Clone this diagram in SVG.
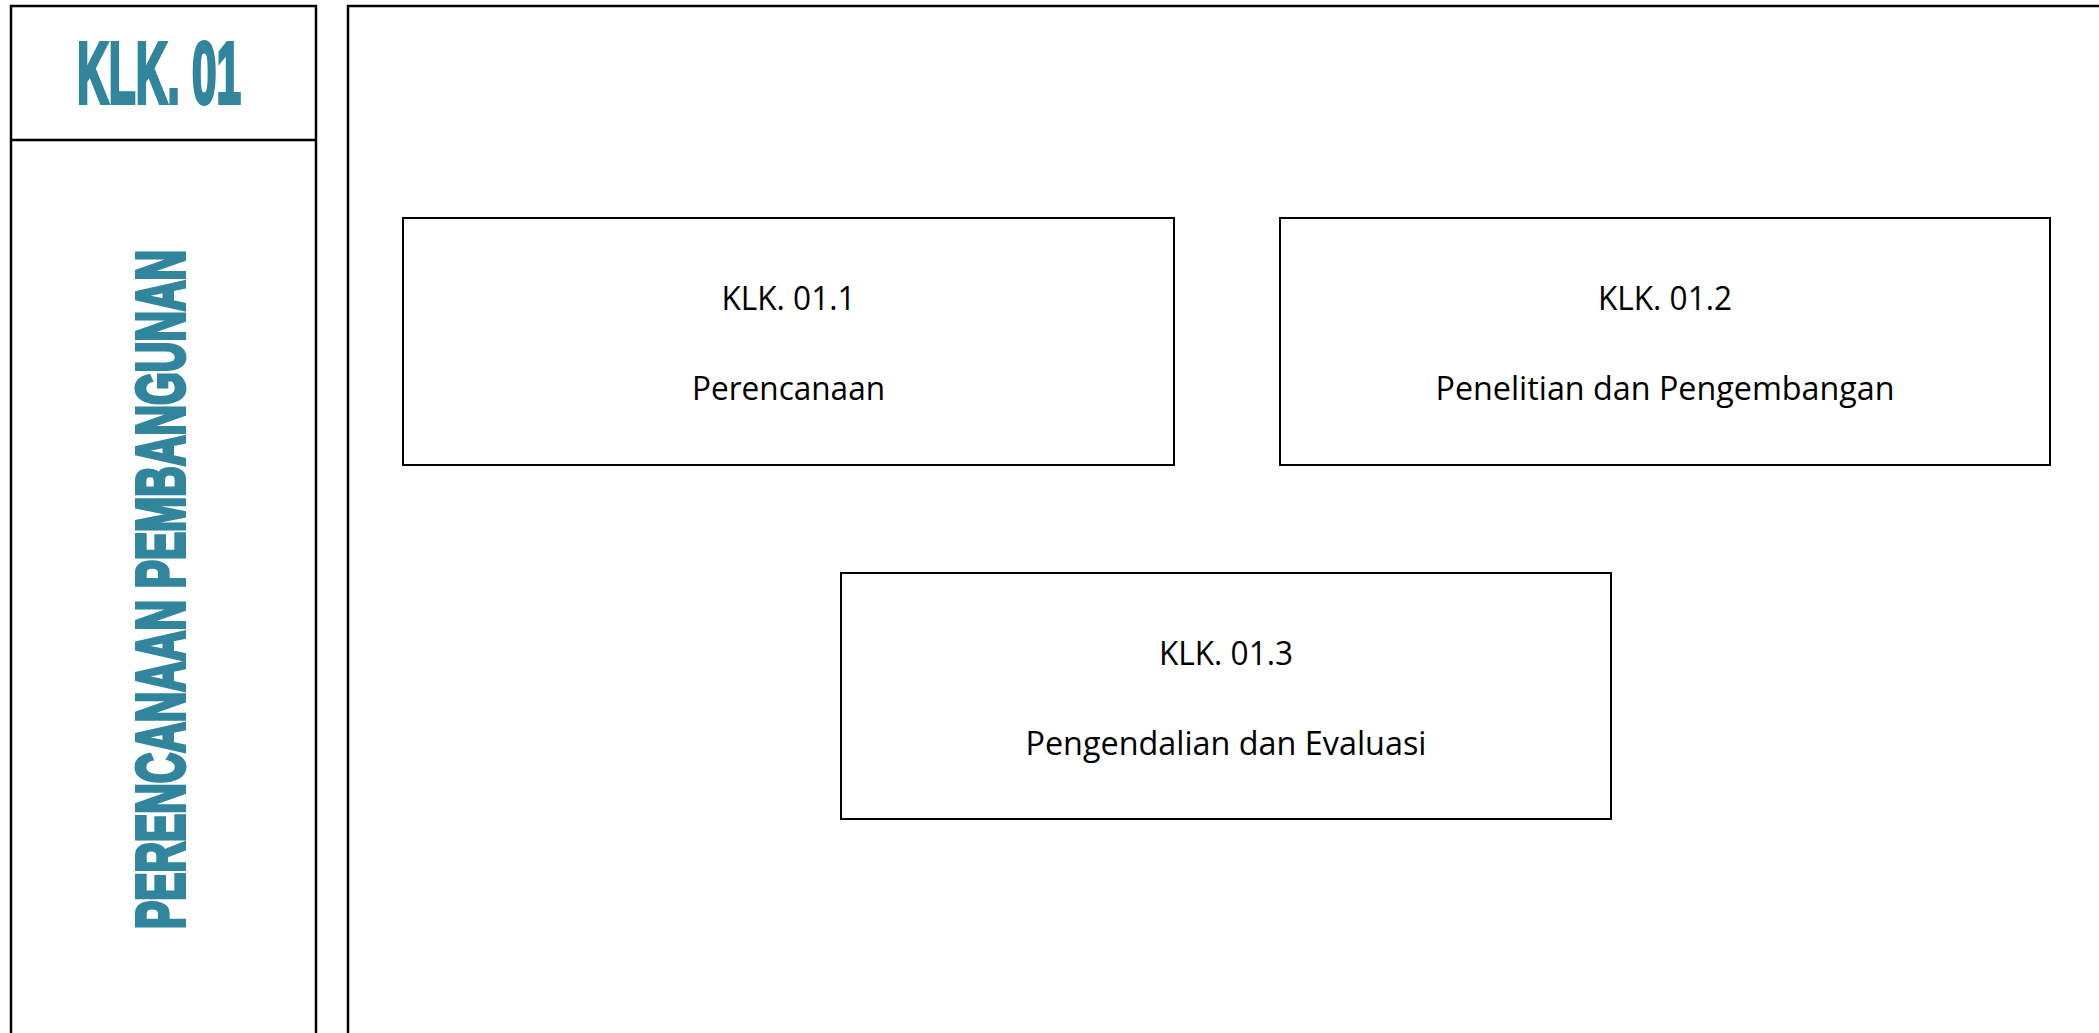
<svg xmlns="http://www.w3.org/2000/svg" width="2099" height="1033" viewBox="0 0 2099 1033">
<style>
.frame{fill:none;stroke:#000;stroke-width:2.5}
.box{fill:#fff;stroke:#000;stroke-width:2}
.title{font-family:"Liberation Sans",Arial,sans-serif;font-weight:bold;fill:#31859C;stroke:#31859C;stroke-width:4;stroke-linejoin:miter;text-anchor:middle}
.lbl{font-family:"Open Sans","Liberation Sans",sans-serif;font-size:32px;fill:#000;text-anchor:middle}
</style>
<rect width="2099" height="1033" fill="#fff"/>
<g id="left-panel">
<rect class="frame" x="11" y="6" width="305" height="1060"/>
<line class="frame" x1="11" y1="140" x2="316" y2="140"/>
<text class="title" x="159" y="103" font-size="88" textLength="164" lengthAdjust="spacingAndGlyphs">KLK. 01</text>
<text class="title" transform="translate(184,589.5) rotate(-90)" x="0" y="0" font-size="69" textLength="679" lengthAdjust="spacingAndGlyphs">PERENCANAAN PEMBANGUNAN</text>
</g>
<g id="right-panel">
<rect class="frame" x="348" y="6" width="1800" height="1060"/>
</g>
<g id="node-klk-01-1">
<rect class="box" x="403" y="218" width="771" height="247"/>
<text class="lbl" x="788.5" y="310" textLength="134" lengthAdjust="spacingAndGlyphs">KLK. 01.1</text>
<text class="lbl" x="788.5" y="400" textLength="193" lengthAdjust="spacingAndGlyphs">Perencanaan</text>
</g>
<g id="node-klk-01-2">
<rect class="box" x="1280" y="218" width="770" height="247"/>
<text class="lbl" x="1665" y="310" textLength="134" lengthAdjust="spacingAndGlyphs">KLK. 01.2</text>
<text class="lbl" x="1665" y="400" textLength="459" lengthAdjust="spacingAndGlyphs">Penelitian dan Pengembangan</text>
</g>
<g id="node-klk-01-3">
<rect class="box" x="841" y="573" width="770" height="246"/>
<text class="lbl" x="1226" y="665" textLength="134" lengthAdjust="spacingAndGlyphs">KLK. 01.3</text>
<text class="lbl" x="1226" y="755" textLength="401" lengthAdjust="spacingAndGlyphs">Pengendalian dan Evaluasi</text>
</g>
<g id="connectors"></g>
</svg>
